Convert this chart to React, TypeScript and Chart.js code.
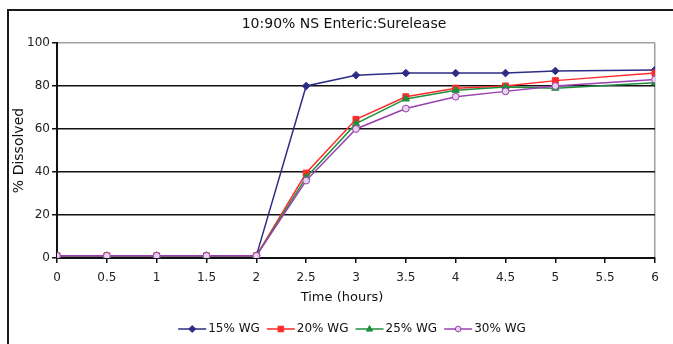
import React, { useEffect, useRef } from "react";
import { Chart, registerables } from "chart.js";

Chart.register(...registerables);

const chartTitle = "10:90% NS Enteric:Surelease";
const xAxisTitle = "Time (hours)";
const yAxisTitle = "% Dissolved";

const timeHours = [0, 0.5, 1, 1.5, 2, 2.5, 3, 3.5, 4, 4.5, 5, 6];
const xTickValues = [0, 0.5, 1, 1.5, 2, 2.5, 3, 3.5, 4, 4.5, 5, 5.5, 6];
const xTickLabels = ["0", "0.5", "1", "1.5", "2", "2.5", "3", "3.5", "4", "4.5", "5", "5.5", "6"];
const yTickValues = [0, 20, 40, 60, 80, 100];

const seriesNames = ["15% WG", "20% WG", "25% WG", "30% WG"];
const wg15 = [1, 1, 1, 1, 1, 80, 85, 86, 86, 86, 87, 87.5];
const wg20 = [1, 1, 1, 1, 1, 39.5, 64.5, 75, 79, 80, 82.5, 86];
const wg25 = [1, 1, 1, 1, 1, 37.5, 62.5, 74, 78, 79.5, 79, 81.5];
const wg30 = [1, 1, 1, 1, 1, 36, 60, 69.5, 75, 77.5, 80, 83];

const FONT = "'DejaVu Sans', sans-serif";

function drawMarker(ctx: CanvasRenderingContext2D, style: string, x: number, y: number, r: number, fill: string, stroke: string) {
  ctx.save();
  ctx.beginPath();
  if (style === "rectRot") {
    ctx.moveTo(x, y - r);
    ctx.lineTo(x + r, y);
    ctx.lineTo(x, y + r);
    ctx.lineTo(x - r, y);
    ctx.closePath();
  } else if (style === "rect") {
    ctx.rect(x - r * 0.8, y - r * 0.8, r * 1.6, r * 1.6);
  } else if (style === "triangle") {
    ctx.moveTo(x, y - r);
    ctx.lineTo(x + r * 0.9, y + r * 0.6);
    ctx.lineTo(x - r * 0.9, y + r * 0.6);
    ctx.closePath();
  } else {
    ctx.arc(x, y, r * 0.8, 0, Math.PI * 2);
  }
  ctx.fillStyle = fill;
  ctx.strokeStyle = stroke;
  ctx.lineWidth = 1;
  ctx.fill();
  ctx.stroke();
  ctx.restore();
}

const decorPlugin = {
  id: "decor",
  beforeDraw(chart: any) {
    const ctx = chart.ctx as CanvasRenderingContext2D;
    ctx.save();
    ctx.fillStyle = "#ffffff";
    ctx.fillRect(0, 0, chart.width, chart.height);
    ctx.strokeStyle = "#1a1a1a";
    ctx.lineWidth = 2;
    ctx.beginPath();
    ctx.moveTo(7, 10);
    ctx.lineTo(chart.width, 10);
    ctx.moveTo(8, 10);
    ctx.lineTo(8, chart.height);
    ctx.stroke();
    ctx.restore();
  },
  afterDraw(chart: any) {
    const ctx = chart.ctx as CanvasRenderingContext2D;
    ctx.save();
    ctx.fillStyle = "#111111";
    ctx.textAlign = "center";
    ctx.textBaseline = "middle";
    ctx.font = `14px ${FONT}`;
    ctx.fillText(chartTitle, 344, 24);
    ctx.font = `13px ${FONT}`;
    ctx.fillText(xAxisTitle, 342, 298);

    // legend
    ctx.font = `12px ${FONT}`;
    const lineLen = 28;
    const gapText = 2;
    const gapItem = 7;
    const items = chart.data.datasets.map((ds: any) => ({
      label: ds.label,
      color: ds.borderColor,
      fill: ds.pointBackgroundColor,
      style: ds.pointStyle,
      w: ctx.measureText(ds.label).width,
    }));
    let total = 0;
    items.forEach((it: any, i: number) => {
      total += lineLen + gapText + it.w + (i < items.length - 1 ? gapItem : 0);
    });
    let x = 352 - total / 2;
    const y = 329;
    items.forEach((it: any) => {
      ctx.strokeStyle = it.color;
      ctx.lineWidth = 1.5;
      ctx.beginPath();
      ctx.moveTo(x, y);
      ctx.lineTo(x + lineLen, y);
      ctx.stroke();
      drawMarker(ctx, it.style, x + lineLen / 2, y, 3.5, it.fill, it.color);
      ctx.fillStyle = "#111111";
      ctx.textAlign = "left";
      ctx.fillText(it.label, x + lineLen + gapText, y);
      x += lineLen + gapText + it.w + gapItem;
    });
    ctx.restore();
  },
};

export default function App() {
  const canvasRef = useRef<HTMLCanvasElement | null>(null);

  useEffect(() => {
    if (!canvasRef.current) return;
    const mk = (vals: number[]) => timeHours.map((t, i) => ({ x: t, y: vals[i] }));
    const colors = ["#2e2d85", "#ff2a2a", "#1f8f3f", "#9a3fb0"];
    const fills = ["#2e2d85", "#ff2a2a", "#1f8f3f", "#e6d3ee"];
    const styles = ["rectRot", "rect", "triangle", "circle"];
    const radii = [3.8, 4.2, 4.2, 3.4];
    const values = [wg15, wg20, wg25, wg30];

    const chart = new Chart(canvasRef.current, {
      type: "line",
      data: {
        datasets: values.map((v, i) => ({
          label: seriesNames[i],
          data: mk(v),
          borderColor: colors[i],
          backgroundColor: colors[i],
          pointBackgroundColor: fills[i],
          pointBorderColor: colors[i],
          pointStyle: styles[i] as any,
          pointRadius: radii[i],
          pointBorderWidth: 1,
          borderWidth: 1.5,
          tension: 0,
          fill: false,
          order: 4 - i,
        })),
      },
      options: {
        animation: false,
        responsive: false,
        maintainAspectRatio: false,
        layout: { padding: { left: 10, right: 18, top: 43, bottom: 0 } },
        plugins: {
          legend: { display: false },
          title: { display: false },
          tooltip: { enabled: false },
        },
        scales: {
          x: {
            type: "linear",
            min: 0,
            max: 6,
            afterBuildTicks: (scale: any) => {
              scale.ticks = xTickValues.map((v) => ({ value: v }));
            },
            afterFit: (scale: any) => {
              scale.height = 86;
            },
            ticks: {
              autoSkip: false,
              maxRotation: 0,
              padding: 8,
              color: "#222222",
              font: { family: FONT, size: 12 },
              callback: (v: any) => {
                const idx = xTickValues.indexOf(Number(v));
                return idx >= 0 ? xTickLabels[idx] : "";
              },
            },
            grid: {
              color: (c: any) => (c.tick && c.tick.value === 6 ? "#a0a0a0" : "rgba(0,0,0,0)"),
              tickColor: "#111111",
              tickLength: 5,
              lineWidth: 1.5,
            },
            border: { display: true, color: "#111111", width: 2 },
          },
          y: {
            min: 0,
            max: 100,
            afterBuildTicks: (scale: any) => {
              scale.ticks = yTickValues.map((v) => ({ value: v }));
            },
            afterFit: (scale: any) => {
              scale.width = 47;
            },
            title: {
              display: true,
              text: yAxisTitle,
              color: "#111111",
              font: { family: FONT, size: 14 },
              padding: { top: 1, bottom: 0 },
            },
            ticks: {
              padding: 2,
              color: "#222222",
              font: { family: FONT, size: 12 },
            },
            grid: {
              color: (c: any) => (c.tick && c.tick.value === 100 ? "#a0a0a0" : "#111111"),
              tickColor: "#111111",
              tickLength: 5,
              lineWidth: 1.5,
            },
            border: { display: true, color: "#111111", width: 2 },
          },
        },
      },
      plugins: [decorPlugin],
    });
    return () => chart.destroy();
  }, []);

  return (
    <div style={{ position: "absolute", left: 0, top: 0, width: 673, height: 344, background: "#fff" }}>
      <canvas ref={canvasRef} width={673} height={344} style={{ display: "block", width: 673, height: 344 }} />
    </div>
  );
}
